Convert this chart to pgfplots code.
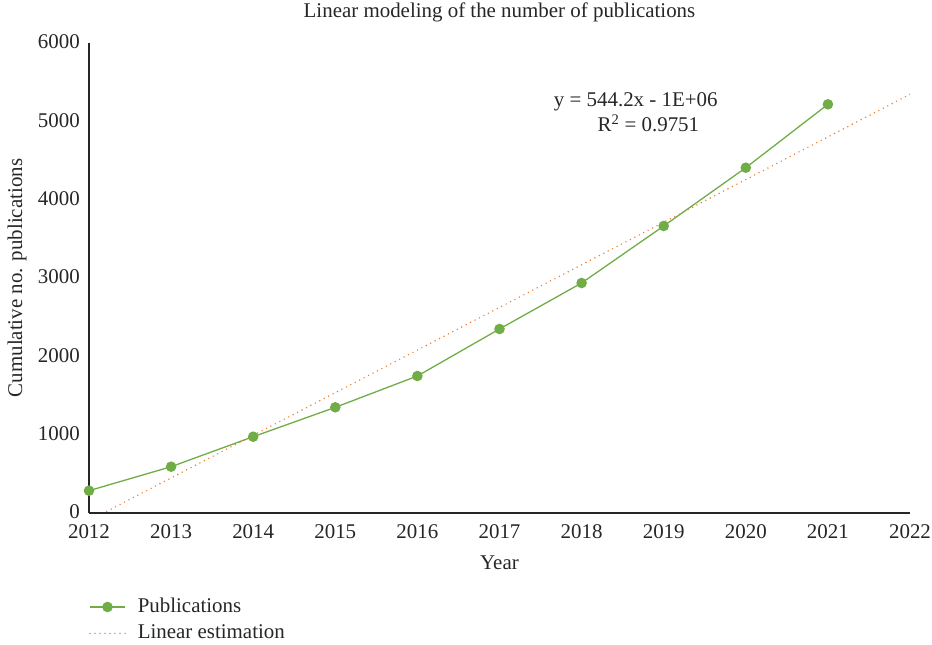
\documentclass[border=0pt]{standalone}
\usepackage{fontspec}
\setmainfont{Liberation Serif}
\usepackage{pgfplots}
\pgfplotsset{compat=1.18}
\definecolor{pubgreen}{HTML}{70AD47}
\definecolor{estorange}{HTML}{ED7D31}
\definecolor{axgray}{HTML}{262626}
\begin{document}
\fontsize{21}{25}\selectfont
\begin{tikzpicture}[x=1bp,y=1bp]
\path[use as bounding box] (-89,-132) rectangle (843,513);
\begin{axis}[at={(0,0)}, anchor=south west, scale only axis,
  width=821bp, height=470bp,
  xmin=2012, xmax=2022, ymin=0, ymax=6000,
  axis x line*=bottom, axis y line*=left,
  axis line style={-, draw=axgray, line width=1.1bp},
  xtick={2012,2013,...,2022}, ytick={0,1000,...,6000},
  major tick length=0pt,
  /pgf/number format/1000 sep={},
  /pgf/number format/assume math mode=true,
  tick label style={font=\fontsize{21}{25}\selectfont, text=axgray},
  xticklabel style={yshift=-4bp},
  yticklabel style={xshift=-2bp, yshift=1bp},
  title={Linear modeling of the number of publications},
  title style={at={(0.5,1+25/470)}, anchor=center, font=\fontsize{21}{25}\selectfont, text=axgray},
  xlabel={Year},
  xlabel style={at={(0.5,-50/470)}, anchor=center, font=\fontsize{21}{25}\selectfont, text=axgray},
  ylabel={Cumulative no. publications},
  ylabel style={at={(-72/821,0.5)}, anchor=center, rotate=0, font=\fontsize{21}{25}\selectfont, text=axgray},
  clip mode=individual,
  legend style={draw=none, fill=none, at={(0,-83/470)}, anchor=north west,
    inner xsep=0pt, inner ysep=0pt, row sep=5bp,
    font=\fontsize{21}{25}\selectfont, text=axgray},
  legend cell align=left,
  legend image code/.code={\draw[mark repeat=2,mark phase=2,#1] plot coordinates {(0bp,0bp) (17.5bp,0bp) (35bp,0bp)}; \path (45bp,0bp);},
]
\addplot[color=pubgreen, line width=1.3bp, mark=*, mark size=4.6bp, mark options={fill=pubgreen, draw=pubgreen}]
  coordinates {(2012,285) (2013,591) (2014,974) (2015,1349) (2016,1749) (2017,2349) (2018,2936) (2019,3664) (2020,4408) (2021,5217)};
\addlegendentry{Publications}
\addplot[color=estorange, line width=1.6bp, line cap=round, dash pattern=on 0pt off 5bp]
  coordinates {(2012,-96.7) (2022,5345.3)};
\addlegendentry{Linear estimation}
\node[align=center, text=axgray, font=\fontsize{21}{25}\selectfont] at (axis cs:2018.66,5115) {y = 544.2x - 1E+06\\\hspace*{1.2em}R\textsuperscript{2} = 0.9751};
\end{axis}
\end{tikzpicture}
\end{document}
